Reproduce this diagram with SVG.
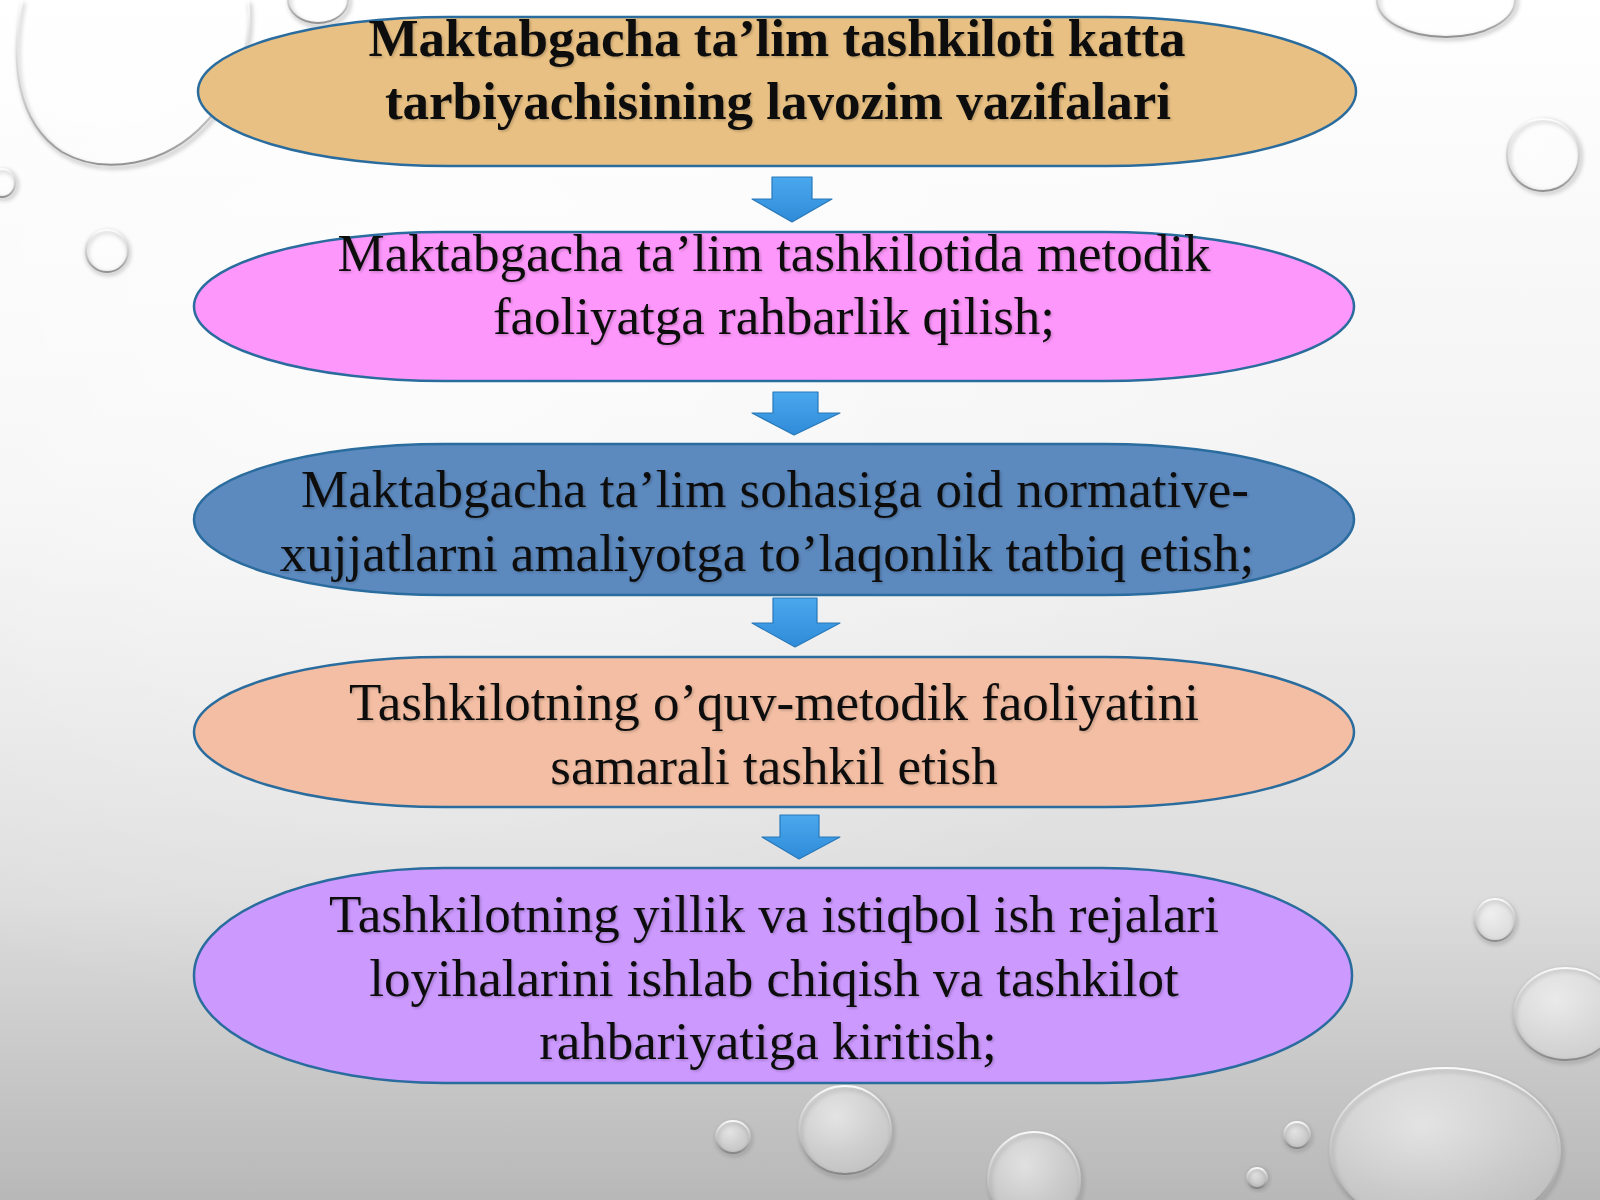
<svg xmlns="http://www.w3.org/2000/svg" width="1600" height="1200" viewBox="0 0 1600 1200">
  <defs>
    <linearGradient id="bg" x1="0" y1="0" x2="0" y2="1">
      <stop offset="0" stop-color="#FFFFFF"/>
      <stop offset="0.4" stop-color="#F3F3F3"/>
      <stop offset="0.75" stop-color="#DCDCDC"/>
      <stop offset="1" stop-color="#B8B8B8"/>
    </linearGradient>
    <radialGradient id="bgGlow" cx="0.25" cy="0.25" r="0.6">
      <stop offset="0" stop-color="#FFFFFF" stop-opacity="0.7"/>
      <stop offset="1" stop-color="#FFFFFF" stop-opacity="0"/>
    </radialGradient>
    <radialGradient id="drop" cx="0.4" cy="0.35" r="0.7">
      <stop offset="0" stop-color="#FFFFFF" stop-opacity="0.55"/>
      <stop offset="0.6" stop-color="#FFFFFF" stop-opacity="0.25"/>
      <stop offset="1" stop-color="#FFFFFF" stop-opacity="0.1"/>
    </radialGradient>
    <linearGradient id="dropRim" x1="0" y1="0" x2="0" y2="1">
      <stop offset="0" stop-color="#FFFFFF" stop-opacity="0.9"/>
      <stop offset="0.6" stop-color="#BDBDBD" stop-opacity="0.7"/>
      <stop offset="1" stop-color="#7A7A7A" stop-opacity="0.8"/>
    </linearGradient>
    <linearGradient id="arrowFill" x1="0" y1="0" x2="0" y2="1">
      <stop offset="0" stop-color="#4AA8EE"/>
      <stop offset="1" stop-color="#2F8BD8"/>
    </linearGradient>
    <filter id="dropShadow" x="-20%" y="-20%" width="140%" height="140%">
      <feGaussianBlur stdDeviation="2"/>
    </filter>
    <filter id="txtShadow" x="-5%" y="-20%" width="110%" height="140%">
      <feDropShadow dx="1.5" dy="1.5" stdDeviation="1" flood-color="#000000" flood-opacity="0.2"/>
    </filter>
  </defs>
  <style>
    .node { stroke: #2A6C9E; stroke-width: 2.5; }
    .lbl { font-family: "Liberation Serif", "Times New Roman", serif; font-size: 53px; text-anchor: middle; fill: #0D0D0D; filter: url(#txtShadow); }
    .bold { font-weight: bold; }
    .arrow { fill: url(#arrowFill); stroke: #2878B8; stroke-width: 1.2; stroke-linejoin: round; }
    .dshadow { fill: none; stroke: #6E6E6E; stroke-width: 3; opacity: 0.45; filter: url(#dropShadow); }
    .dmain { fill: url(#drop); stroke: url(#dropRim); stroke-width: 2; }
  </style>

  <g id="background">
    <rect x="0" y="0" width="1600" height="1200" fill="url(#bg)"/>
    <rect x="0" y="0" width="1600" height="1200" fill="url(#bgGlow)"/>
    <path class="dshadow" d="M22,0 C10,60 16,122 62,152 C104,176 166,166 206,122 C244,82 252,32 248,0" transform="translate(2,3)"/>
    <path d="M22,0 C10,60 16,122 62,152 C104,176 166,166 206,122 C244,82 252,32 248,0 Z" fill="url(#drop)"/>
    <path d="M22,0 C10,60 16,122 62,152 C104,176 166,166 206,122 C244,82 252,32 248,0" fill="none" stroke="url(#dropRim)" stroke-width="2"/>
    <ellipse class="dshadow" cx="320" cy="2" rx="30" ry="24"/>
    <ellipse class="dmain" cx="318" cy="0" rx="30" ry="23"/>
    <ellipse class="dshadow" cx="4" cy="185" rx="13" ry="14"/>
    <ellipse class="dmain" cx="2" cy="183" rx="13" ry="14"/>
    <ellipse class="dshadow" cx="108" cy="253" rx="21" ry="21"/>
    <ellipse class="dmain" cx="107" cy="251" rx="21" ry="21"/>
    <ellipse class="dshadow" cx="1448" cy="2" rx="69" ry="37"/>
    <ellipse class="dmain" cx="1446" cy="0" rx="69" ry="37"/>
    <ellipse class="dshadow" cx="1545" cy="157" rx="36" ry="36"/>
    <ellipse class="dmain" cx="1543" cy="155" rx="36" ry="36"/>
    <ellipse class="dshadow" cx="1496" cy="922" rx="20" ry="21"/>
    <ellipse class="dmain" cx="1495" cy="920" rx="20" ry="21"/>
    <ellipse class="dshadow" cx="1567" cy="1016" rx="52" ry="46"/>
    <ellipse class="dmain" cx="1566" cy="1014" rx="52" ry="46"/>
    <ellipse class="dshadow" cx="1447" cy="1153" rx="115" ry="82"/>
    <ellipse class="dmain" cx="1445" cy="1150" rx="115" ry="82"/>
    <ellipse class="dshadow" cx="1298" cy="1137" rx="13" ry="13"/>
    <ellipse class="dmain" cx="1297" cy="1135" rx="13" ry="13"/>
    <ellipse class="dshadow" cx="1258" cy="1179" rx="10" ry="10"/>
    <ellipse class="dmain" cx="1257" cy="1178" rx="10" ry="10"/>
    <ellipse class="dshadow" cx="734" cy="1139" rx="17" ry="16"/>
    <ellipse class="dmain" cx="733" cy="1137" rx="17" ry="16"/>
    <ellipse class="dshadow" cx="847" cy="1133" rx="46" ry="44"/>
    <ellipse class="dmain" cx="845" cy="1130" rx="46" ry="44"/>
    <ellipse class="dshadow" cx="1036" cy="1183" rx="46" ry="48"/>
    <ellipse class="dmain" cx="1034" cy="1180" rx="46" ry="48"/>
  </g>

  <g id="connectors">
    <polygon class="arrow" points="772,177 812,177 812,199 832,199 792,222 752,199 772,199"/>
    <polygon class="arrow" points="773,392 818,392 818,413 840,413 794,435 752,413 773,413"/>
    <polygon class="arrow" points="773,598 817,598 817,623 840,623 795,647 752,623 773,623"/>
    <polygon class="arrow" points="780,815 819,815 819,837 840,837 799,859 762,837 780,837"/>
  </g>

  <g id="node1">
    <rect class="node" x="198" y="17" width="1158" height="149" rx="250" ry="74.5" fill="#E8C083"/>
    <text class="lbl bold" x="777" y="56">Maktabgacha ta’lim tashkiloti katta</text>
    <text class="lbl bold" x="778" y="119">tarbiyachisining lavozim vazifalari</text>
  </g>

  <g id="node2">
    <rect class="node" x="194" y="232" width="1160" height="149" rx="250" ry="74.5" fill="#FD97FB"/>
    <text class="lbl" x="774" y="271" fill="#1A0A1E">Maktabgacha ta’lim tashkilotida metodik</text>
    <text class="lbl" x="774" y="334" fill="#1A0A1E">faoliyatga rahbarlik qilish;</text>
  </g>

  <g id="node3">
    <rect class="node" x="194" y="444" width="1160" height="151" rx="250" ry="75.5" fill="#5C89BE"/>
    <text class="lbl" x="775" y="507">Maktabgacha ta’lim sohasiga oid normative-</text>
    <text class="lbl" x="767" y="571">xujjatlarni amaliyotga to’laqonlik tatbiq etish;</text>
  </g>

  <g id="node4">
    <rect class="node" x="194" y="657" width="1160" height="150" rx="250" ry="75" fill="#F3BEA3"/>
    <text class="lbl" x="774" y="720">Tashkilotning o’quv-metodik faoliyatini</text>
    <text class="lbl" x="774" y="784">samarali tashkil etish</text>
  </g>

  <g id="node5">
    <rect class="node" x="194" y="868" width="1158" height="215" rx="250" ry="107" fill="#CC99FF"/>
    <text class="lbl" x="774" y="932">Tashkilotning yillik va istiqbol ish rejalari</text>
    <text class="lbl" x="774" y="996">loyihalarini ishlab chiqish va tashkilot</text>
    <text class="lbl" x="768" y="1059">rahbariyatiga kiritish;</text>
  </g>
</svg>
